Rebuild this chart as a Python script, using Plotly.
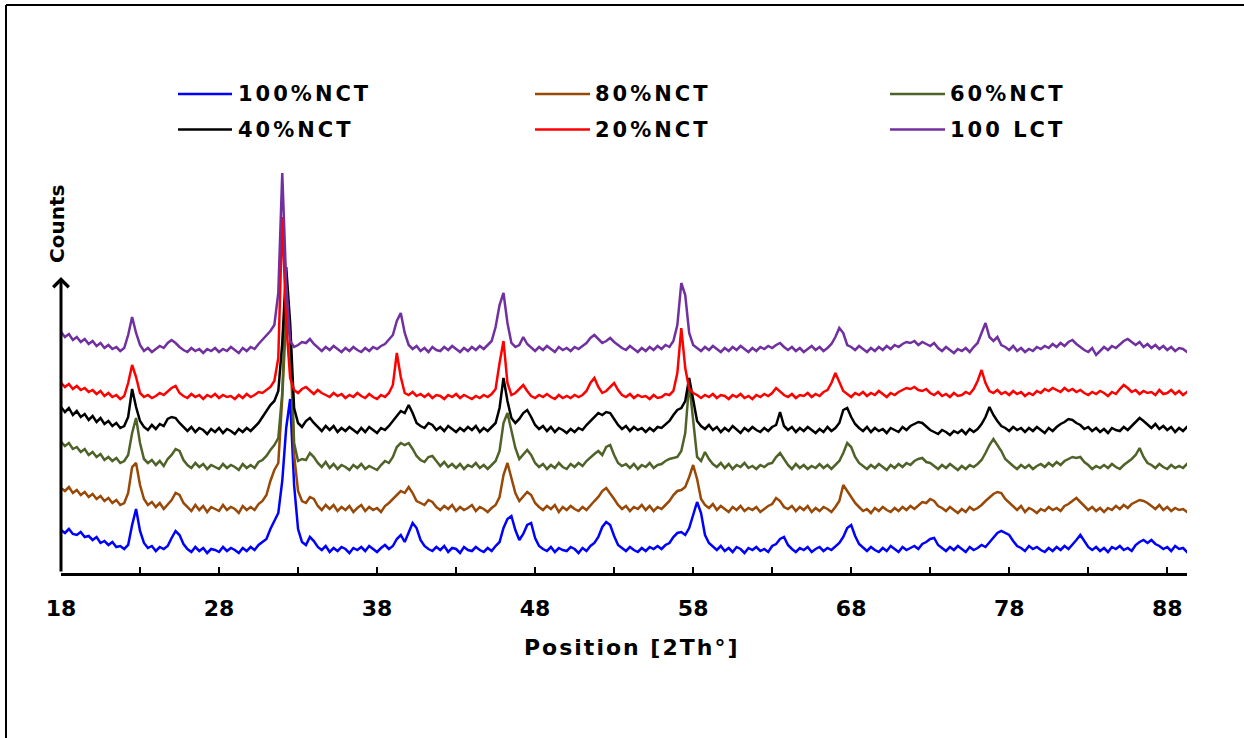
import plotly.graph_objects as go

# ---------------- data ----------------
two_theta = [
    18.0, 18.25, 18.5, 18.75, 19.0, 19.25, 19.5, 19.75, 20.0, 20.25, 20.5, 20.75,
    21.0, 21.25, 21.5, 21.75, 22.0, 22.25, 22.5, 22.75, 23.0, 23.25, 23.5, 23.75,
    24.0, 24.25, 24.5, 24.75, 25.0, 25.25, 25.5, 25.75, 26.0, 26.25, 26.5, 26.75,
    27.0, 27.25, 27.5, 27.75, 28.0, 28.25, 28.5, 28.75, 29.0, 29.25, 29.5, 29.75,
    30.0, 30.25, 30.5, 30.75, 31.0, 31.25, 31.5, 31.75, 32.0, 32.25, 32.5, 32.75,
    33.0, 33.25, 33.5, 33.75, 34.0, 34.25, 34.5, 34.75, 35.0, 35.25, 35.5, 35.75,
    36.0, 36.25, 36.5, 36.75, 37.0, 37.25, 37.5, 37.75, 38.0, 38.25, 38.5, 38.75,
    39.0, 39.25, 39.5, 39.75, 40.0, 40.25, 40.5, 40.75, 41.0, 41.25, 41.5, 41.75,
    42.0, 42.25, 42.5, 42.75, 43.0, 43.25, 43.5, 43.75, 44.0, 44.25, 44.5, 44.75,
    45.0, 45.25, 45.5, 45.75, 46.0, 46.25, 46.5, 46.75, 47.0, 47.25, 47.5, 47.75,
    48.0, 48.25, 48.5, 48.75, 49.0, 49.25, 49.5, 49.75, 50.0, 50.25, 50.5, 50.75,
    51.0, 51.25, 51.5, 51.75, 52.0, 52.25, 52.5, 52.75, 53.0, 53.25, 53.5, 53.75,
    54.0, 54.25, 54.5, 54.75, 55.0, 55.25, 55.5, 55.75, 56.0, 56.25, 56.5, 56.75,
    57.0, 57.25, 57.5, 57.75, 58.0, 58.25, 58.5, 58.75, 59.0, 59.25, 59.5, 59.75,
    60.0, 60.25, 60.5, 60.75, 61.0, 61.25, 61.5, 61.75, 62.0, 62.25, 62.5, 62.75,
    63.0, 63.25, 63.5, 63.75, 64.0, 64.25, 64.5, 64.75, 65.0, 65.25, 65.5, 65.75,
    66.0, 66.25, 66.5, 66.75, 67.0, 67.25, 67.5, 67.75, 68.0, 68.25, 68.5, 68.75,
    69.0, 69.25, 69.5, 69.75, 70.0, 70.25, 70.5, 70.75, 71.0, 71.25, 71.5, 71.75,
    72.0, 72.25, 72.5, 72.75, 73.0, 73.25, 73.5, 73.75, 74.0, 74.25, 74.5, 74.75,
    75.0, 75.25, 75.5, 75.75, 76.0, 76.25, 76.5, 76.75, 77.0, 77.25, 77.5, 77.75,
    78.0, 78.25, 78.5, 78.75, 79.0, 79.25, 79.5, 79.75, 80.0, 80.25, 80.5, 80.75,
    81.0, 81.25, 81.5, 81.75, 82.0, 82.25, 82.5, 82.75, 83.0, 83.25, 83.5, 83.75,
    84.0, 84.25, 84.5, 84.75, 85.0, 85.25, 85.5, 85.75, 86.0, 86.25, 86.5, 86.75,
    87.0, 87.25, 87.5, 87.75, 88.0, 88.25, 88.5, 88.75, 89.0, 89.25, 89.5, 89.75,
]

# stacked intensities (arbitrary counts, offsets included as in the figure)
nct_100 = [
    43, 40, 44, 39, 38, 41, 36, 37, 33, 36, 30, 32,
    28, 31, 26, 27, 24, 28, 48, 64, 42, 30, 25, 27,
    22, 26, 24, 27, 35, 42, 38, 29, 24, 21, 26, 22,
    25, 20, 24, 23, 21, 26, 22, 25, 23, 20, 25, 22,
    26, 23, 28, 31, 34, 44, 52, 60, 92, 145, 174, 88,
    44, 31, 28, 36, 32, 26, 23, 27, 21, 25, 22, 26,
    24, 20, 25, 23, 26, 22, 27, 24, 21, 25, 28, 24,
    27, 34, 38, 31, 40, 50, 45, 33, 27, 24, 22, 26,
    23, 27, 21, 25, 24, 20, 26, 23, 22, 26, 23, 21,
    25, 22, 27, 31, 45, 54, 57, 43, 33, 39, 48, 50,
    35, 27, 24, 22, 26, 21, 25, 23, 22, 26, 24, 20,
    25, 22, 27, 30, 36, 46, 51, 48, 37, 28, 25, 22,
    26, 23, 21, 25, 22, 26, 24, 27, 24, 28, 30, 36,
    40, 41, 38, 45, 58, 71, 60, 38, 30, 26, 23, 27,
    22, 25, 21, 26, 24, 20, 25, 23, 26, 22, 24, 21,
    27, 29, 34, 36, 28, 24, 21, 25, 23, 26, 21, 24,
    26, 22, 25, 23, 27, 30, 36, 45, 48, 37, 29, 25,
    22, 26, 23, 21, 25, 22, 27, 24, 21, 26, 23, 25,
    27, 24, 29, 31, 34, 35, 28, 25, 22, 26, 23, 27,
    24, 21, 26, 23, 25, 28, 26, 31, 36, 40, 42, 40,
    38, 32, 27, 25, 22, 27, 24, 26, 23, 21, 25, 22,
    26, 23, 27, 24, 28, 33, 38, 32, 26, 23, 26, 22,
    25, 21, 26, 24, 27, 23, 25, 22, 28, 31, 33, 30,
    33, 29, 27, 24, 26, 22, 27, 24, 25, 21, 26, 24,
]

nct_80 = [
    85, 82, 86, 80, 83, 78, 81, 76, 79, 74, 77, 72,
    75, 70, 73, 68, 70, 80, 106, 110, 88, 74, 68, 71,
    66, 70, 64, 69, 73, 80, 78, 70, 66, 62, 68, 63,
    67, 61, 66, 64, 62, 68, 63, 66, 64, 60, 67, 63,
    66, 63, 69, 72, 78, 92, 103, 110, 175, 258, 235, 118,
    82, 72, 70, 76, 74, 67, 63, 68, 64, 68, 62, 66,
    63, 67, 61, 65, 68, 62, 66, 63, 65, 61, 67, 70,
    74, 78, 82, 80, 86, 80, 72, 70, 68, 73, 71, 66,
    63, 67, 64, 68, 62, 66, 63, 65, 68, 62, 66, 64,
    61, 65, 68, 76, 98, 110, 96, 80, 72, 76, 81, 78,
    70, 66, 63, 67, 64, 68, 61, 66, 63, 67, 64, 62,
    66, 63, 68, 72, 76, 82, 85, 80, 74, 68, 64, 67,
    62, 66, 64, 68, 63, 67, 62, 66, 64, 68, 72, 78,
    82, 83, 86, 96, 108, 94, 74, 68, 65, 69, 63, 67,
    64, 61, 66, 63, 67, 62, 65, 63, 66, 61, 64, 67,
    69, 75, 72, 66, 64, 67, 62, 66, 63, 67, 61, 65,
    62, 66, 64, 61, 66, 72, 88, 82, 76, 70, 66, 62,
    64, 60, 65, 62, 66, 63, 61, 65, 62, 66, 63, 67,
    64, 68, 71, 70, 74, 72, 67, 65, 62, 66, 63, 60,
    64, 61, 66, 63, 65, 68, 72, 76, 79, 81, 80, 74,
    70, 66, 63, 67, 61, 65, 63, 60, 64, 62, 66, 63,
    65, 62, 67, 69, 72, 75, 71, 67, 63, 66, 62, 65,
    61, 65, 63, 67, 64, 68, 65, 69, 71, 73, 72, 70,
    67, 64, 68, 63, 66, 62, 65, 63, 64, 61, 66, 63,
]

nct_60 = [
    131, 127, 130, 124, 126, 121, 124, 118, 121, 116, 119, 113,
    116, 112, 115, 110, 112, 118, 140, 155, 130, 114, 110, 113,
    108, 112, 107, 114, 118, 124, 122, 113, 108, 105, 110, 106,
    109, 104, 108, 106, 104, 109, 105, 108, 106, 103, 109, 105,
    108, 105, 111, 113, 117, 123, 128, 135, 180, 286, 240, 130,
    112, 114, 113, 120, 116, 110, 106, 111, 105, 109, 104, 108,
    106, 103, 108, 105, 109, 104, 107, 105, 103, 108, 112, 110,
    116, 126, 130, 128, 130, 124, 117, 113, 111, 116, 117, 112,
    107, 111, 106, 109, 105, 109, 104, 108, 106, 110, 105, 108,
    104, 108, 112, 122, 150, 160, 144, 125, 114, 119, 123, 118,
    110, 106, 109, 104, 108, 105, 110, 106, 104, 109, 106, 110,
    107, 112, 116, 119, 122, 118, 126, 128, 118, 110, 107, 109,
    105, 109, 104, 108, 106, 110, 105, 108, 109, 112, 114, 115,
    116, 122, 140, 190, 150, 116, 112, 121, 114, 109, 106, 110,
    105, 109, 104, 108, 106, 110, 105, 107, 104, 108, 106, 109,
    110, 116, 120, 114, 108, 104, 109, 105, 108, 104, 107, 105,
    109, 105, 108, 104, 108, 112, 120, 130, 126, 116, 110, 107,
    104, 108, 105, 109, 106, 103, 108, 105, 109, 106, 110, 108,
    112, 114, 115, 111, 110, 107, 104, 108, 105, 109, 106, 103,
    107, 104, 108, 106, 109, 113, 120, 128, 134, 128, 122, 114,
    110, 107, 104, 108, 105, 108, 104, 107, 109, 106, 110, 107,
    111, 108, 112, 114, 116, 115, 116, 111, 108, 104, 107, 105,
    108, 105, 109, 106, 104, 108, 111, 114, 118, 125, 116, 110,
    108, 105, 109, 106, 104, 108, 105, 107, 105, 109, 106, 104,
]

nct_40 = [
    166, 161, 165, 158, 162, 156, 159, 153, 157, 151, 155, 149,
    152, 147, 150, 145, 147, 156, 184, 166, 152, 146, 143, 148,
    144, 149, 147, 154, 156, 155, 150, 146, 142, 146, 141, 145,
    143, 139, 144, 141, 145, 140, 144, 142, 139, 144, 141, 145,
    142, 146, 150, 156, 162, 168, 172, 182, 230, 306, 250, 165,
    150, 146, 152, 155, 150, 146, 142, 147, 143, 147, 141, 145,
    142, 146, 143, 140, 145, 141, 146, 143, 140, 145, 143, 147,
    152, 158, 162, 160, 168, 160, 150, 147, 145, 150, 148, 143,
    146, 142, 147, 144, 141, 145, 142, 146, 143, 147, 141, 145,
    142, 146, 150, 165, 195, 172, 155, 150, 154, 160, 163, 156,
    148, 144, 147, 142, 146, 141, 145, 143, 140, 144, 141, 145,
    143, 148, 152, 156, 160, 158, 161, 160, 154, 148, 144, 147,
    142, 146, 143, 145, 141, 145, 142, 146, 145, 149, 152, 158,
    163, 165, 172, 195, 175, 152, 147, 144, 148, 143, 146, 141,
    145, 142, 147, 143, 140, 145, 142, 146, 143, 141, 145, 142,
    146, 148, 161, 147, 143, 146, 141, 145, 142, 146, 143, 140,
    144, 141, 146, 142, 145, 150, 163, 165, 156, 149, 145, 142,
    146, 141, 145, 142, 144, 140, 145, 143, 141, 146, 143, 147,
    149, 151, 150, 146, 143, 141, 139, 143, 141, 138, 142, 140,
    143, 139, 144, 141, 144, 149, 156, 166, 158, 152, 147, 145,
    142, 146, 143, 145, 141, 145, 142, 146, 143, 140, 145, 142,
    146, 149, 151, 154, 153, 150, 148, 144, 146, 142, 145, 141,
    144, 140, 145, 143, 142, 146, 143, 147, 151, 155, 152, 148,
    145, 149, 144, 147, 143, 146, 141, 145, 142, 146, 143, 144,
]

nct_20 = [
    190, 186, 189, 184, 187, 183, 185, 181, 183, 179, 182, 177,
    180, 176, 178, 174, 177, 190, 208, 196, 180, 176, 178, 175,
    177, 180, 178, 182, 185, 187, 180, 177, 175, 179, 176, 178,
    174, 178, 176, 179, 175, 178, 176, 177, 174, 178, 175, 179,
    176, 178, 181, 180, 183, 186, 192, 215, 356, 250, 195, 183,
    180, 184, 186, 182, 179, 183, 180, 178, 176, 180, 177, 179,
    175, 178, 176, 180, 177, 175, 179, 176, 174, 178, 176, 180,
    188, 220, 196, 180, 178, 181, 177, 179, 176, 179, 175, 178,
    177, 174, 178, 176, 179, 175, 178, 176, 174, 177, 175, 178,
    176, 179, 184, 210, 232, 190, 178, 180, 184, 188, 182, 177,
    175, 178, 176, 179, 176, 174, 178, 175, 177, 175, 178, 176,
    178, 182, 190, 195, 186, 180, 182, 186, 190, 183, 178, 176,
    179, 175, 178, 176, 177, 174, 178, 175, 176, 179, 178, 182,
    200, 245, 205, 184, 180, 178, 175, 178, 176, 179, 175, 178,
    177, 174, 178, 176, 179, 175, 177, 174, 178, 176, 179, 177,
    180, 185, 181, 178, 176, 179, 175, 178, 177, 180, 176, 179,
    177, 181, 183, 190, 200, 190, 182, 179, 176, 180, 178, 181,
    177, 180, 178, 182, 179, 176, 180, 178, 181, 183, 185, 184,
    186, 183, 182, 184, 180, 178, 181, 177, 179, 176, 180, 177,
    178, 181, 179, 184, 192, 203, 190, 182, 180, 183, 179, 181,
    178, 182, 179, 181, 177, 180, 178, 182, 180, 184, 182, 185,
    183, 181, 185, 182, 184, 181, 183, 180, 178, 181, 179, 182,
    180, 177, 181, 179, 184, 188, 185, 181, 183, 179, 182, 180,
    181, 178, 183, 179, 180, 183, 179, 182, 178, 181, 179, 180,
]

lct_100 = [
    241, 236, 239, 233, 236, 231, 234, 229, 232, 227, 230, 225,
    228, 224, 226, 222, 225, 238, 256, 240, 228, 222, 225, 221,
    224, 227, 225, 230, 233, 230, 226, 223, 221, 225, 222, 224,
    220, 224, 222, 225, 221, 224, 222, 226, 223, 220, 225, 222,
    226, 224, 229, 233, 238, 242, 248, 280, 400, 290, 232, 226,
    228, 231, 230, 234, 229, 225, 222, 226, 223, 227, 224, 221,
    225, 222, 226, 223, 221, 225, 222, 226, 224, 227, 229, 233,
    238, 252, 260, 240, 228, 224, 227, 222, 225, 221, 226, 223,
    222, 226, 223, 227, 224, 221, 225, 222, 226, 223, 227, 224,
    228, 232, 246, 268, 280, 250, 230, 226, 228, 236, 229, 225,
    222, 226, 223, 227, 224, 221, 226, 223, 225, 222, 226, 224,
    227, 230, 235, 238, 234, 230, 232, 235, 231, 228, 225, 223,
    227, 224, 221, 225, 222, 226, 223, 227, 224, 228, 226, 232,
    248, 290, 278, 240, 228, 225, 222, 226, 223, 227, 224, 221,
    225, 222, 226, 223, 227, 224, 221, 225, 222, 226, 224, 227,
    225, 228, 230, 226, 223, 226, 222, 225, 221, 224, 227, 223,
    226, 222, 225, 229, 236, 245, 240, 228, 226, 223, 227, 224,
    221, 225, 222, 226, 223, 227, 224, 228, 226, 229, 231, 230,
    232, 228, 231, 229, 227, 230, 225, 222, 226, 223, 220, 224,
    222, 225, 221, 226, 230, 240, 250, 236, 232, 236, 228, 226,
    223, 227, 222, 225, 221, 224, 222, 226, 224, 227, 225, 229,
    226, 230, 227, 231, 233, 229, 226, 223, 221, 225, 218, 222,
    226, 223, 227, 225, 229, 232, 234, 231, 228, 231, 226, 229,
    225, 228, 224, 227, 223, 226, 222, 225, 224, 221, 225, 223,
]

series_names = ["100%NCT", "80%NCT", "60%NCT", "40%NCT", "20%NCT", "100 LCT"]
series_colors = ["#0000FF", "#984807", "#4F6228", "#000000", "#FF0000", "#7030A0"]
series_values = [nct_100, nct_80, nct_60, nct_40, nct_20, lct_100]

x_tick_values = [18, 23, 28, 33, 38, 43, 48, 53, 58, 63, 68, 73, 78, 83, 88]
x_tick_labels = ["18", "", "28", "", "38", "", "48", "", "58", "", "68", "", "78", "", "88"]
x_title = "Position [2Th°]"
y_title = "Counts"

# ---------------- layout geometry (pixels) ----------------
W, H = 1244, 738
L, R, B, T = 61, 1187, 573, 161
X_RANGE = [18, 89.25]
Y_RANGE = [0, B - T]


def px_x(p):
    return (p - L) / (R - L)


def px_y(p):
    return (B - p) / (B - T)


FONT = "DejaVu Sans"

fig = go.Figure()
for name, color, vals in zip(series_names, series_colors, series_values):
    fig.add_trace(go.Scatter(
        x=two_theta, y=vals, mode="lines", name=name,
        line=dict(color=color, width=2.5), showlegend=False,
    ))

shapes = []
annotations = []

# outer frame (top and left edges visible)
shapes.append(dict(type="line", xref="paper", yref="paper",
                   x0=px_x(6), x1=px_x(1260), y0=px_y(5), y1=px_y(5),
                   line=dict(color="black", width=2)))
shapes.append(dict(type="line", xref="paper", yref="paper",
                   x0=px_x(6), x1=px_x(6), y0=px_y(5), y1=px_y(760),
                   line=dict(color="black", width=2)))

# legend (two rows of three)
legend_cols = [(178, 232, 236), (535, 590, 593), (890, 945, 948)]
legend_rows = [94, 129.5]
for i, (name, color) in enumerate(zip(series_names, series_colors)):
    r, c = divmod(i, 3)
    lx0, lx1, tx = legend_cols[c]
    ly = legend_rows[r]
    shapes.append(dict(type="line", xref="paper", yref="paper",
                       x0=px_x(lx0), x1=px_x(lx1), y0=px_y(ly), y1=px_y(ly),
                       line=dict(color=color, width=2.5)))
    annotations.append(dict(
        xref="paper", yref="paper", x=px_x(tx), y=px_y(ly),
        xanchor="left", yanchor="middle", showarrow=False,
        text=f'<span style="letter-spacing:3px">{name}</span>',
        font=dict(family=FONT, size=21, color="black", weight="bold"),
    ))

# y-axis arrow
annotations.append(dict(
    x=18, y=B - 277, ax=18, ay=0, xref="x", yref="y", axref="x", ayref="y",
    text="", showarrow=True, arrowhead=4, arrowsize=1, arrowwidth=3,
    arrowcolor="black",
))
annotations.append(dict(
    xref="paper", yref="paper", x=px_x(57), y=px_y(224),
    xanchor="center", yanchor="middle", showarrow=False, textangle=-90,
    text=y_title, font=dict(family=FONT, size=20, color="black", weight="bold"),
))

# x-axis title
annotations.append(dict(
    xref="paper", yref="paper", x=px_x(631), y=px_y(647),
    xanchor="center", yanchor="middle", showarrow=False,
    text=f'<span style="letter-spacing:2px">{x_title}</span>',
    font=dict(family=FONT, size=22, color="black", weight="bold"),
))

fig.update_layout(
    width=W, height=H,
    margin=dict(l=L, r=W - R, t=T, b=H - B, pad=0),
    paper_bgcolor="white", plot_bgcolor="white",
    showlegend=False,
    shapes=shapes, annotations=annotations,
    xaxis=dict(
        range=X_RANGE, showgrid=False, zeroline=False,
        showline=True, linecolor="black", linewidth=3,
        ticks="inside", ticklen=6, tickwidth=2, tickcolor="black",
        tickmode="array", tickvals=x_tick_values, ticktext=x_tick_labels,
        tickfont=dict(family=FONT, size=22, color="black", weight="bold"),
        ticklabelstandoff=14,
    ),
    yaxis=dict(
        range=Y_RANGE, visible=False, showgrid=False, zeroline=False,
    ),
)

fig.write_html("out.html")
